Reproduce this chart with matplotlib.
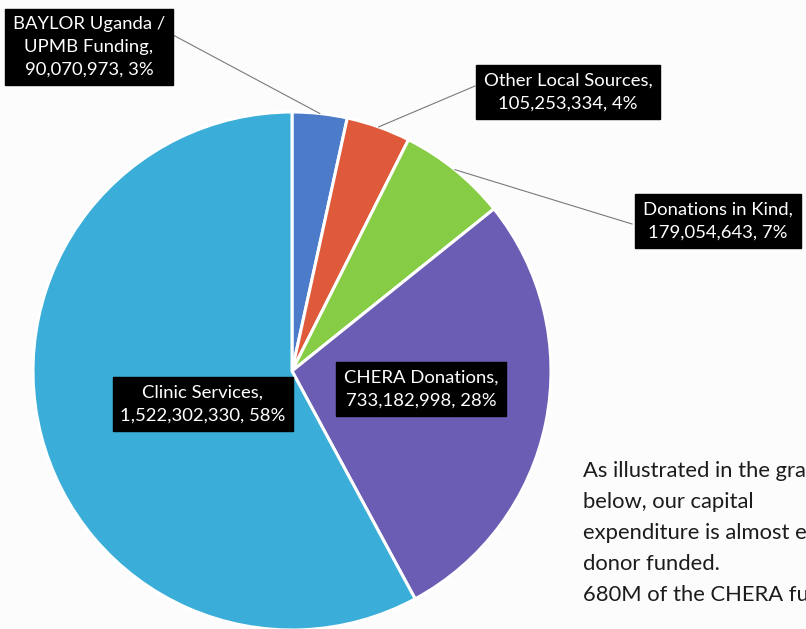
import numpy as np
import matplotlib
matplotlib.use("Agg")
import matplotlib.pyplot as plt

# Funding sources (UGX)
sources = ["Clinic Services", "CHERA Donations", "Donations in Kind",
           "Other Local Sources", "BAYLOR Uganda /\nUPMB Funding"]
amounts = [1522302330, 733182998, 179054643, 105253334, 90070973]
percent_labels = ["58%", "28%", "7%", "4%", "3%"]
colors = ["#3aaed8", "#6a5db3", "#86cd45", "#df5a3b", "#4b7bc9"]

# Slice order around the pie (clockwise from 12 o'clock)
order = [4, 3, 2, 1, 0]

W, H = 806, 629
fig = plt.figure(figsize=(W / 100, H / 100), dpi=100)
fig.patch.set_facecolor("#fcfcfc")
ax = fig.add_axes([0, 0, 1, 1])

cx, cy, r = 292, H - 371, 259
vals = [amounts[i] for i in order]
wedges, _ = ax.pie(vals, colors=[colors[i] for i in order], startangle=90,
                   counterclock=False, center=(cx, cy), radius=r,
                   frame=True, wedgeprops=dict(edgecolor="white", linewidth=2.2))
ax.set_xlim(0, W)
ax.set_ylim(0, H)
ax.set_aspect("equal")
ax.axis("off")

def fmt(v):
    return f"{v:,}"

font = dict(family=["Lato", "DejaVu Sans"], fontsize=13.3, color="white",
            ha="center", va="center", linespacing=1.5)
box = dict(boxstyle="square,pad=0.42", fc="black", ec="black")

# Label positions for each slice (label centre, in pixels from the top-left)
label_pos = {0: (203, 404), 1: (421, 389), 2: (718, 221), 3: (568, 92), 4: (89, 47)}
leader_start = {2: (632, 224), 3: (475, 86), 4: (173, 35)}

for w, idx in zip(wedges, order):
    text = f"{sources[idx]},\n{fmt(amounts[idx])}, {percent_labels[idx]}"
    lx, ly = label_pos[idx]
    if idx in leader_start:
        mid = np.deg2rad((w.theta1 + w.theta2) / 2)
        px, py = cx + r * np.cos(mid), cy + r * np.sin(mid)
        sx, sy = leader_start[idx]
        ax.plot([sx, px], [H - sy, py], color="#7a7a7a", lw=0.8, zorder=3)
    ax.text(lx, H - ly, text, bbox=box, zorder=5, **font)

para = ("As illustrated in the graph\n"
        "below, our capital\n"
        "expenditure is almost entirely\n"
        "donor funded.\n"
        "680M of the CHERA funding")
ax.text(583, H - 461, para, family=["Lato", "DejaVu Sans"], fontsize=15.8,
        color="#1c1c1c", ha="left", va="top", linespacing=1.68)

fig.savefig("out.png", dpi=100, facecolor=fig.get_facecolor())
